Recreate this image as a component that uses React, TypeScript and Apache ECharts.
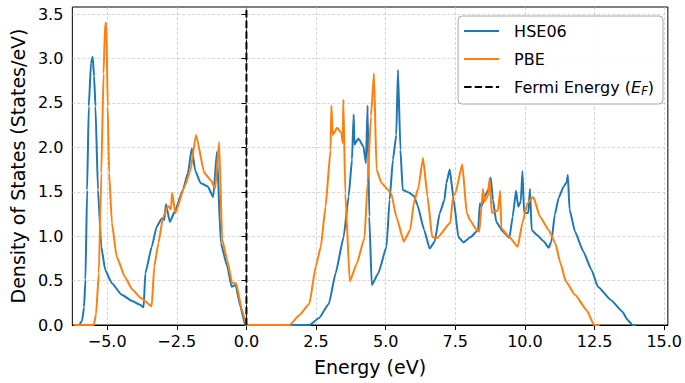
import React, { useEffect, useRef } from "react";
import * as echarts from "echarts";

// Tick values
const xTicks = [-5, -2.5, 0, 2.5, 5, 7.5, 10, 12.5, 15];
const yTicks = [0, 0.5, 1, 1.5, 2, 2.5, 3, 3.5];

// HSE06 density of states [energy, DOS]
const hse06: [number, number][] = [
  [-6.1, 0], [-6.0, 0.0], [-5.9, 0.05], [-5.83, 0.2], [-5.78, 0.51], [-5.72, 1.52], [-5.66, 2.46],
  [-5.58, 2.95], [-5.52, 3.02], [-5.47, 2.8], [-5.42, 2.46], [-5.33, 1.52], [-5.21, 0.88],
  [-5.07, 0.62], [-4.83, 0.47], [-4.48, 0.34], [-4.1, 0.27], [-3.83, 0.23], [-3.69, 0.2],
  [-3.63, 0.58], [-3.4, 0.88], [-3.22, 1.11], [-3.04, 1.2], [-2.95, 1.18], [-2.89, 1.36],
  [-2.75, 1.16], [-2.57, 1.28], [-2.28, 1.52], [-2.1, 1.71], [-1.96, 1.99], [-1.84, 1.74],
  [-1.65, 1.6], [-1.39, 1.56], [-1.19, 1.44], [-1.06, 1.95], [-0.92, 0.92], [-0.69, 0.66],
  [-0.53, 0.43], [-0.39, 0.45], [-0.22, 0.21], [-0.04, 0],
  [2.26, 0], [2.61, 0.08], [2.96, 0.24], [3.2, 0.58], [3.49, 0.99], [3.67, 1.45], [3.79, 1.86],
  [3.85, 2.37], [3.88, 2.03], [4.02, 2.1], [4.2, 2.01], [4.29, 1.82], [4.35, 2.47], [4.41, 1.22],
  [4.5, 0.45], [4.73, 0.58], [5.03, 0.88], [5.14, 1.41], [5.26, 1.86], [5.38, 2.14], [5.44, 2.87],
  [5.53, 1.97], [5.61, 1.52], [5.85, 1.49], [6.02, 1.45], [6.14, 1.35], [6.38, 1.07], [6.58, 0.86],
  [6.76, 0.94], [6.94, 1.26], [7.11, 1.41], [7.18, 1.6], [7.3, 1.75], [7.44, 1.41], [7.61, 0.99],
  [7.79, 0.93], [8.05, 0.99], [8.32, 1.07], [8.38, 1.37], [8.44, 1.33], [8.56, 1.45], [8.68, 1.52],
  [8.77, 1.66], [8.85, 1.41], [8.97, 1.16], [9.21, 1.05], [9.44, 0.98], [9.56, 1.22], [9.68, 1.51],
  [9.76, 1.33], [9.85, 1.39], [9.91, 1.73], [9.97, 1.26], [10.12, 1.26], [10.18, 1.53], [10.24, 1.07],
  [10.44, 1.01], [10.68, 0.94], [10.85, 0.87], [10.95, 0.94], [11.07, 1.24], [11.21, 1.43],
  [11.39, 1.56], [11.5, 1.61], [11.54, 1.69], [11.6, 1.3], [11.8, 1.05], [12.09, 0.83], [12.39, 0.62],
  [12.62, 0.43], [13.09, 0.28], [13.5, 0.15], [13.68, 0.06], [13.86, 0], [13.98, 0],
];

// PBE density of states [energy, DOS]
const pbe: [number, number][] = [
  [-6.2, 0], [-5.48, 0], [-5.4, 0.12], [-5.3, 0.58], [-5.21, 1.71], [-5.13, 2.83], [-5.07, 3.4],
  [-5.03, 3.4], [-4.98, 2.46], [-4.93, 1.71], [-4.83, 1.15], [-4.66, 0.77], [-4.36, 0.54],
  [-4.1, 0.4], [-3.78, 0.3], [-3.4, 0.21],
  [-3.31, 0.66], [-3.16, 0.92], [-2.99, 1.22], [-2.81, 1.34], [-2.71, 1.3], [-2.67, 1.49],
  [-2.55, 1.26], [-2.22, 1.56], [-2.01, 1.74], [-1.81, 2.14], [-1.51, 1.71], [-1.28, 1.63],
  [-1.12, 1.54], [-0.98, 2.06], [-0.87, 0.96], [-0.69, 0.73], [-0.51, 0.47], [-0.37, 0.47],
  [-0.16, 0.17], [0, 0],
  [1.55, 0], [1.9, 0.11], [2.26, 0.24], [2.49, 0.66], [2.67, 0.88], [2.84, 1.33], [3.02, 1.97],
  [3.05, 2.47], [3.1, 2.14], [3.26, 2.22], [3.41, 2.16], [3.46, 2.05], [3.48, 2.54], [3.55, 1.48],
  [3.71, 0.49], [3.96, 0.69], [4.24, 0.98], [4.35, 1.6], [4.47, 2.35], [4.58, 2.83], [4.67, 1.75],
  [4.85, 1.6], [5.09, 1.52], [5.2, 1.48], [5.38, 1.22], [5.65, 0.94], [5.88, 1.07], [6.02, 1.39],
  [6.17, 1.54], [6.34, 1.88], [6.5, 1.45], [6.67, 0.99], [6.85, 0.98], [7.32, 1.15], [7.42, 1.45],
  [7.5, 1.48], [7.75, 1.81], [7.91, 1.26], [8.03, 1.18], [8.26, 1.07], [8.36, 1.05], [8.44, 1.33],
  [8.49, 1.53], [8.55, 1.39], [8.68, 1.46], [8.73, 1.65], [8.81, 1.26], [9.03, 1.29], [9.11, 1.51],
  [9.15, 1.09], [9.44, 0.99], [9.74, 0.88], [9.91, 1.15], [10.09, 1.37], [10.3, 1.44], [10.54, 1.22],
  [10.85, 1.07], [11.09, 0.92], [11.27, 0.7], [11.47, 0.49], [11.8, 0.34], [12.21, 0.17],
  [12.48, 0], [12.68, 0],
];

// Fermi level line
const fermi: [number, number][] = [[0, 0], [0, 3.58]];

const FONT = "DejaVu Sans";

const fmt = (v: number) => (v < 0 ? "\u2212" : "") + Math.abs(v).toFixed(1);

export default function App() {
  const ref = useRef<HTMLDivElement>(null);
  useEffect(() => {
    if (!ref.current) return;
    const chart = echarts.init(ref.current, null, { renderer: "svg" });
    chart.setOption({
      animation: false,
      backgroundColor: "#fff",
      grid: {
        left: 66, right: 14, top: 7, bottom: 58,
        show: true, borderColor: "#000", borderWidth: 1, backgroundColor: "transparent",
      },
      legend: {
        data: ["HSE06", "PBE", "Fermi Energy"],
        orient: "vertical",
        right: 22,
        top: 16,
        itemWidth: 35,
        itemHeight: 14,
        itemGap: 8,
        padding: [5, 9, 7, 5],
        borderColor: "#a8a8a8",
        borderWidth: 1,
        borderRadius: 4,
        backgroundColor: "rgba(255,255,255,0.85)",
        itemStyle: { opacity: 0 },
        formatter: (name: string) =>
          name === "Fermi Energy" ? "Fermi Energy ({e|E}{f|F})" : name,
        textStyle: {
          fontSize: 16,
          fontFamily: FONT,
          color: "#000",
          lineHeight: 20,
          padding: [0, 0, 0, 10],
          rich: {
            e: { fontSize: 16, fontFamily: FONT, fontStyle: "italic", color: "#000" },
            f: { fontSize: 11.5, fontFamily: FONT, fontStyle: "italic", color: "#000", padding: [8, 0, 0, 0] },
          },
        },
      },
      xAxis: {
        type: "value",
        min: -6.25,
        max: 15.13,
        name: "Energy (eV)",
        nameLocation: "middle",
        nameGap: 32,
        nameTextStyle: { fontSize: 19, fontFamily: FONT, color: "#000" },
        axisLine: { show: true, onZero: false, lineStyle: { color: "#000", width: 1 } },
        axisTick: { show: true, customValues: xTicks, length: 5, lineStyle: { color: "#000", width: 1 } },
        axisLabel: { customValues: xTicks, formatter: fmt, fontSize: 16, fontFamily: FONT, color: "#000", margin: 8 },
        splitLine: { show: false },
      },
      yAxis: {
        type: "value",
        min: 0,
        max: 3.58,
        interval: 0.5,
        name: "Density of States (States/eV)",
        nameLocation: "middle",
        nameGap: 45,
        nameTextStyle: { fontSize: 19, fontFamily: FONT, color: "#000" },
        axisLine: { show: true, lineStyle: { color: "#000", width: 1 } },
        axisTick: { show: true, customValues: yTicks, length: 5, lineStyle: { color: "#000", width: 1 } },
        axisLabel: { customValues: yTicks, formatter: (v: number) => v.toFixed(1), fontSize: 16, fontFamily: FONT, color: "#000", margin: 9 },
        splitLine: { show: true, lineStyle: { type: [3, 2], color: "#c4c4c4", width: 0.7 } },
      },
      series: [
        {
          name: "_grid",
          type: "line",
          data: [],
          silent: true,
          z: 1,
          markLine: {
            silent: true,
            symbol: "none",
            z: 1,
            label: { show: false },
            lineStyle: { type: [3, 2], color: "#c4c4c4", width: 0.7 },
            data: xTicks.map((v) => ({ xAxis: v })),
          },
        },
        {
          name: "HSE06",
          type: "line",
          data: hse06,
          symbol: "none",
          smooth: 0.15,
          smoothMonotone: "x",
          z: 3,
          lineStyle: { color: "#1f77b4", width: 2 },
          itemStyle: { color: "#1f77b4" },
        },
        {
          name: "PBE",
          type: "line",
          data: pbe,
          symbol: "none",
          smooth: 0.15,
          smoothMonotone: "x",
          z: 4,
          lineStyle: { color: "#ff7f0e", width: 2 },
          itemStyle: { color: "#ff7f0e" },
        },
        {
          name: "Fermi Energy",
          type: "line",
          data: fermi,
          symbol: "none",
          z: 5,
          lineStyle: { color: "#000", width: 2, type: [7.4, 3.2] },
          itemStyle: { color: "#000" },
        },
      ],
    });
    return () => chart.dispose();
  }, []);
  return (
    <div
      ref={ref}
      style={{ position: "fixed", left: 0, top: 0, width: 685, height: 383 }}
    />
  );
}
